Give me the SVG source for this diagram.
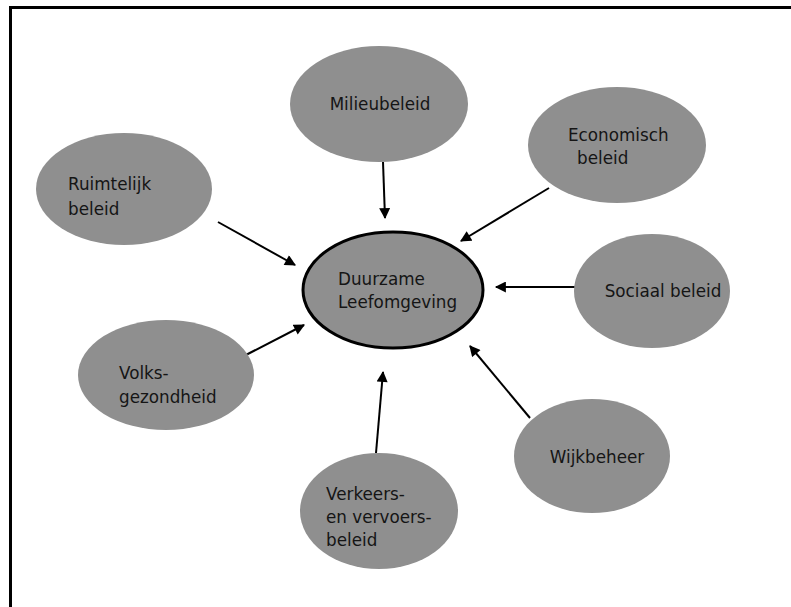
<svg xmlns="http://www.w3.org/2000/svg" width="791" height="607" viewBox="0 0 791 607">
<style>
.n ellipse{fill:#8f8f8f;}
.c ellipse{stroke:#000;stroke-width:3;}
text{font-family:"DejaVu Sans","Verdana",sans-serif;font-size:16.8px;fill:#151515;}
.e line{stroke:#000;stroke-width:2;marker-end:url(#ah);}
</style>
<defs>
<marker id="ah" viewBox="0 0 10 10" refX="9" refY="5" markerWidth="12" markerHeight="11" markerUnits="userSpaceOnUse" orient="auto"><path d="M0,0 L10,5 L0,10 Z" fill="#000"/></marker>
</defs>
<rect width="791" height="607" fill="#fff"/>
<path d="M10.5,607 V7.5 H791" fill="none" stroke="#000" stroke-width="3"/>
<g class="e">
<line x1="383" y1="162" x2="385" y2="218"/>
<line x1="549" y1="188" x2="461" y2="241"/>
<line x1="218" y1="222" x2="295" y2="265"/>
<line x1="575" y1="287" x2="496" y2="287"/>
<line x1="240" y1="358" x2="304" y2="325"/>
<line x1="530" y1="418" x2="470" y2="346"/>
<line x1="376" y1="453" x2="383" y2="372"/>
</g>
<g id="milieu" class="n"><ellipse cx="379" cy="104" rx="89" ry="58"/><text x="380" y="110" text-anchor="middle">Milieubeleid</text></g>
<g id="economisch" class="n"><ellipse cx="617" cy="145" rx="89" ry="58"/><text x="568" y="141">Economisch</text><text x="577" y="164">beleid</text></g>
<g id="ruimtelijk" class="n"><ellipse cx="124" cy="189" rx="88" ry="56"/><text x="68" y="190">Ruimtelijk</text><text x="68" y="215">beleid</text></g>
<g id="duurzaam" class="n c"><ellipse cx="393" cy="290" rx="90" ry="58"/><text x="338" y="285">Duurzame</text><text x="338" y="308">Leefomgeving</text></g>
<g id="sociaal" class="n"><ellipse cx="652" cy="291" rx="78" ry="57"/><text x="663" y="297" text-anchor="middle">Sociaal beleid</text></g>
<g id="volks" class="n"><ellipse cx="166" cy="375" rx="88" ry="55"/><text x="119" y="379">Volks-</text><text x="119" y="403">gezondheid</text></g>
<g id="wijk" class="n"><ellipse cx="592" cy="456" rx="78" ry="57"/><text x="597" y="463" text-anchor="middle">Wijkbeheer</text></g>
<g id="verkeer" class="n"><ellipse cx="379" cy="511" rx="79" ry="58"/><text x="326" y="500">Verkeers-</text><text x="326" y="523">en vervoers-</text><text x="326" y="546">beleid</text></g>
</svg>
